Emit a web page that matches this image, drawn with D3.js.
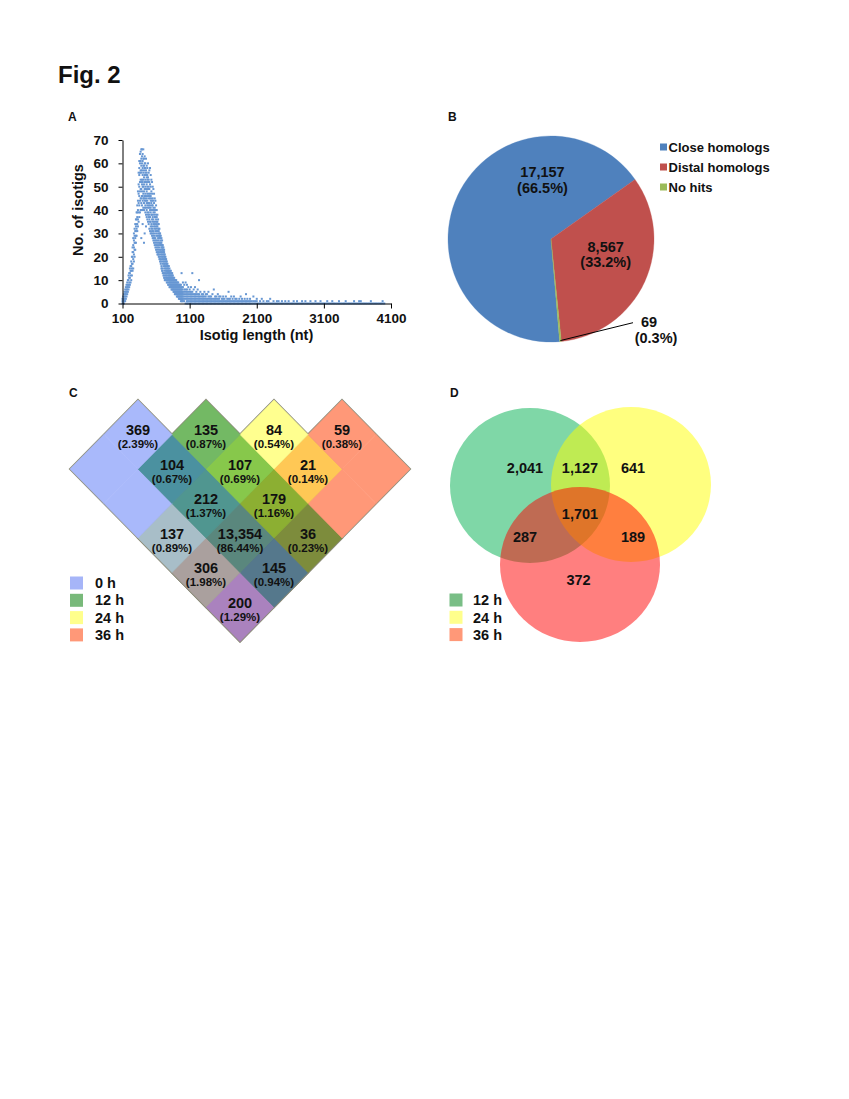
<!DOCTYPE html>
<html><head><meta charset="utf-8">
<script src="https://cdn.jsdelivr.net/npm/d3@7"></script>
<style>
body{margin:0;background:#fff}
svg{font-family:"Liberation Sans",Arial,sans-serif;font-weight:bold}
</style>
</head><body>
<svg id="fig" width="849" height="1099"></svg>
<script>
// ---------------- DATA ----------------
// Panel A: isotig length (nt) bins, each followed by the isotig counts read at that length
const isotigScatter = [
[100,0,1,2],[110,0,1,3,2],[120,0,2,4,1],[130,1,3,5,2],[140,1,4,6,3],[150,2,4,7,5],[160,3,5,8,6],[170,4,6,9,7],
[180,5,7,10,8],[190,6,8,12,10],[200,7,9,13,11],[210,8,11,15,13],[220,9,12,16,14],[230,10,14,18,16],[240,12,15,20,17],
[250,14,17,24,20,22],[260,15,19,28,22,25],[270,18,21,30,24,27],[280,20,23,32,26,29],[290,23,26,34,28,31],
[300,26,29,36,31,33],[310,29,32,39,34,36],[320,31,34,42,37,39],[330,33,36,48,40,44],[340,35,39,56,43,47,51],
[350,37,42,61,46,50,55,58],[360,39,44,64,48,52,56,60],[370,40,45,65,49,53,57,61],
[380,40,45,52,59,66,62,56,49,28,43],[390,42,48,53,60,66,63,57,51,46],[400,40,46,52,58,64,61,55,50,44,34],
[410,41,47,53,59,66,62,56,50,45],[420,40,45,51,57,62,59,54,48,43,26],[430,41,46,52,58,63,60,55,49,44,30],
[440,39,45,50,56,60,58,53,47,42],[450,38,44,49,55,62,57,52,46,41,33],[460,37,43,48,54,59,56,51,45,40],
[470,36,42,47,53,58,55,50,44,39],[480,35,41,46,52,60,54,49,43,38],[490,34,39,45,50,56,53,47,42,37],
[500,32,38,43,49,57,52,46,41,36],[510,31,37,42,47,58,51,45,40,35],[520,30,35,41,46,55,50,44,39,33],
[530,30,34,40,45,53,48,43,38,32],[540,29,33,38,44,52,47,42,36,31],[550,28,32,37,42,50,45,40,35,30],
[560,27,31,36,41,49,44,39,34,29],[570,26,30,35,40,47,43,38,33,28],[580,25,29,34,39,45,41,37,32,27],
[590,24,28,33,37,44,40,35,31,26],[600,23,27,32,36,42,38,34,30,25],[610,22,26,31,35,40,37,33,29,24],
[620,21,25,29,33,38,35,31,27,23],[630,21,24,28,32,36,34,30,26,22],[640,20,23,27,31,34,32,29,25,21],
[650,19,22,26,29,32,30,28,24,20],[660,18,21,25,28,30,29,26,23,19],[670,17,20,23,26,29,27,25,22,18],
[680,16,19,22,25,28,26,24,21,15],[690,15,18,21,24,27,25,23,20,14],[700,14,17,20,23,25,24,22,19,13],
[710,13,16,19,22,24,23,21,18,12],[720,12,15,18,21,23,22,20,17,11],[730,11,14,17,20,21,19,16,10,13],
[740,10,13,16,19,20,18,15,12],[750,10,12,15,18,19,17,14,11],[760,9,12,14,17,18,16,13,11],
[770,9,11,14,16,17,15,13,10],[780,8,11,13,15,16,14,12,10],[790,8,10,12,14,16,13,11,9],
[800,7,10,12,13,15,14,11,9],[810,7,9,11,13,14,12,10,8],[820,7,9,11,12,13,14,10,8],[830,6,8,10,12,13,11,9,7],
[840,6,8,10,11,12,9,7,13],[850,6,8,9,11,12,10,7],[860,5,7,9,10,11,8,6],[870,5,7,8,10,11,9,6],
[880,5,6,8,9,10,7,4],[890,5,6,8,9,10,7,4],[900,4,6,7,9,10,8,5],[910,4,5,7,8,9,6,3],[920,4,5,7,8,9,6,3],
[930,3,5,6,8,9,7,4],[940,3,5,6,7,8,4,2],[950,3,4,6,7,8,5,2],[960,3,4,5,7,8,6,2],[970,2,4,5,6,8,3,1],
[980,2,3,5,6,7,4,1,13],[990,2,3,5,6,7,4,1],
[1000,1,2,4,5,7,3,9],[1020,1,2,3,5,6,4,8],[1040,0,2,4,5,6,3,9],[1060,0,1,3,4,6,2,5,8],[1080,0,1,3,4,5,2,7],
[1100,0,1,2,4,5,3,6],[1120,0,1,2,3,5,4,7],[1140,0,1,2,3,4,5,13],[1160,0,1,2,3,4,6],[1180,0,1,2,3,4,7],
[1200,0,1,2,3,5,4],[1220,0,1,2,3,4,6],[1240,0,1,2,4,3,10],[1260,0,1,2,3,5],[1280,0,1,2,3,4],
[1300,0,1,2,4,3],[1320,0,1,2,3,5],[1340,0,1,3,2,4],[1360,0,1,2,4],[1380,0,1,2,3,5],[1400,0,1,2,3],
[1420,0,1,3,2],[1440,0,1,2,4],[1460,0,1,2,6],[1480,0,1,2,3],[1500,0,1,3,2],[1520,0,1,2,4],[1540,0,1,2,3],
[1560,0,1,3],[1580,0,1,2],[1600,0,1,2,3],[1620,0,1,2],[1640,0,1,3],[1660,0,1,2],[1680,0,1,2,5],[1700,0,1,2],
[1720,0,1,3],[1740,0,1,2],[1760,0,1,3],[1780,0,1,2],[1800,0,1,2],[1820,0,1],[1840,0,1,2],[1860,0,1,3],
[1880,0,1,2],[1900,0,1],[1920,0,1,2],[1940,0,1,4],[1960,0,1,2],[1980,0,1],
[2000,0,1,2],[2025,0,1],[2050,0,1,3],[2075,0,1],[2100,0,1,2],[2125,0],[2150,0,1],[2175,0,2],[2200,0,1],
[2225,0],[2250,0,1],[2275,0,1],[2300,0,2],[2325,0],[2350,0,1],[2375,0],[2400,0,1],[2425,0,1],[2450,0],
[2475,0,1],[2500,0],[2525,0,1],[2550,0],[2575,0,1],[2600,0],[2625,0],[2650,0,1],[2675,0],[2700,0,1],
[2725,0],[2750,0],[2775,0,1],[2800,0],[2825,0,1],[2850,0],[2875,0],[2900,0,1],[2925,0],[2950,0],
[2975,0,1],[3000,0],[3025,0],[3050,0,1],[3075,0],[3100,0],[3125,0],[3150,0,1],[3175,0],[3200,0],
[3225,0,1],[3250,0],[3275,0],[3300,0],[3325,0,1],[3350,0],[3375,0],[3400,0],[3425,0,1],[3450,0],
[3475,0],[3500,0],[3525,0],[3550,0,1],[3575,0],[3600,0],[3625,0,1],[3650,0,1],[3675,0],[3700,0],
[3725,0],[3750,0],[3775,0],[3800,0,1],[3825,0],[3850,0],[3875,0],[3900,0],[3925,0],[3950,0],
[3975,0,1],[4000,0]
];
const xTicksA = [100, 1100, 2100, 3100, 4100];
const yTicksA = [0, 10, 20, 30, 40, 50, 60, 70];

// Panel B: BLAST homology categories
const pieCategories = ["Close homologs", "Distal homologs", "No hits"];
const pieCounts = [17157, 8567, 69];
const piePercents = ["66.5%", "33.2%", "0.3%"];

// Panel C: four-set diagram (0, 12, 24, 36 h)
const cSetKeys = ["0", "12", "24", "36"];
const cSetNames = ["0 h", "12 h", "24 h", "36 h"];
const cRegionSets = ["0","12","24","36","0,12","12,24","24,36","0,12,24","12,24,36","0,24","0,12,24,36","12,36","0,24,36","0,12,36","0,36"];
const cRegionCounts = [369,135,84,59,104,107,21,212,179,137,13354,36,306,145,200];
const cRegionPercents = ["2.39%","0.87%","0.54%","0.38%","0.67%","0.69%","0.14%","1.37%","1.16%","0.89%","86.44%","0.23%","1.98%","0.94%","1.29%"];

// Panel D: three-set Venn (12, 24, 36 h)
const dSetKeys = ["12", "24", "36"];
const dSetNames = ["12 h", "24 h", "36 h"];
const dRegionSets = ["12", "12,24", "24", "12,24,36", "12,36", "24,36", "36"];
const dRegionCounts = [2041, 1127, 641, 1701, 287, 189, 372];

// ---------------- DRAW ----------------
const svg = d3.select("#fig");
const fmt = d3.format(",");
const TXT = "#111";

svg.append("text").attr("x", 58).attr("y", 83).attr("font-size", 24).attr("fill", TXT).text("Fig. 2");
[["A",68,121],["B",448,121],["C",69,397],["D",450,397]].forEach(p=>{
  svg.append("text").attr("x",p[1]).attr("y",p[2]).attr("font-size",12).attr("fill",TXT).text(p[0]);
});

// ----- Panel A -----
const xA = d3.scaleLinear().domain([100, 4100]).range([122.5, 391]);
const yA = d3.scaleLinear().domain([0, 70]).range([303.5, 140]);
const gA = svg.append("g");
const ptsA = [];
isotigScatter.forEach(r => r.slice(1).forEach(c => ptsA.push([r[0], c])));
gA.selectAll("rect.pt").data(ptsA).join("rect").attr("class","pt")
  .attr("x", d => xA(d[0]) - 1).attr("y", d => yA(d[1]) - 1)
  .attr("width", 2).attr("height", 2).attr("fill", "#6797d3");
const axX = gA.append("g").attr("transform","translate(0,303.5)")
  .call(d3.axisBottom(xA).tickValues(xTicksA).tickSize(5).tickSizeOuter(0).tickPadding(5).tickFormat(d=>d));
const axY = gA.append("g").attr("transform","translate(122.5,0)")
  .call(d3.axisLeft(yA).tickValues(yTicksA).tickSize(4).tickSizeOuter(0).tickPadding(10));
[axX, axY].forEach(ax=>{
  ax.attr("font-family",null).attr("font-size",null);
  ax.selectAll("text").attr("font-size",13.5).attr("fill",TXT).attr("font-weight","bold");
  ax.selectAll("line,path").attr("stroke","#000");
});
gA.append("text").attr("x",256.5).attr("y",339.5).attr("text-anchor","middle").attr("font-size",14.5).attr("fill",TXT).text("Isotig length (nt)");
gA.append("text").attr("transform","translate(83,210) rotate(-90)").attr("text-anchor","middle").attr("font-size",14.5).attr("fill",TXT).text("No. of isotigs");

// ----- Panel B -----
const pieColors = ["#4f81bd", "#c0504d", "#9bbb59"];
const pcx = 551, pcy = 239, pr = 103;
const startB = 175.2 * Math.PI / 180;
const pie = d3.pie().sort(null).startAngle(startB).endAngle(startB + 2*Math.PI);
const arcs = pie(pieCounts);
const arc = d3.arc().innerRadius(0).outerRadius(pr);
const gB = svg.append("g").attr("transform",`translate(${pcx},${pcy})`);
gB.selectAll("path").data(arcs).join("path").attr("d", arc).attr("fill",(d,i)=>pieColors[i])
  .attr("stroke",(d,i)=>pieColors[i]).attr("stroke-width",0.3);
// label anchors (layout)
const pieLabelPos = [[-8.5, -62], [54.7, 12.5], [98, 88]];
arcs.forEach((a,i)=>{
  const t = gB.append("text").attr("text-anchor","middle").attr("font-size",14.5).attr("fill",TXT);
  t.append("tspan").attr("x",pieLabelPos[i][0]).attr("y",pieLabelPos[i][1]).text(fmt(pieCounts[i]));
  t.append("tspan").attr("x",pieLabelPos[i][0] + (i===2?7:0)).attr("y",pieLabelPos[i][1]+15.5).text("(" + piePercents[i] + ")");
});
// leader line for the small slice
const smallMid = (arcs[2].startAngle + arcs[2].endAngle)/2;
gB.append("line").attr("x1", Math.sin(smallMid)*(pr-1)).attr("y1", -Math.cos(smallMid)*(pr-1))
  .attr("x2", 82).attr("y2", 83.7).attr("stroke","#000").attr("stroke-width",1);
const gBL = svg.append("g");
pieCategories.forEach((c,i)=>{
  gBL.append("rect").attr("x",660).attr("y",143.5+20*i).attr("width",7).attr("height",7).attr("fill",pieColors[i]);
  gBL.append("text").attr("x",668.5).attr("y",151.7+20*i).attr("font-size",13).attr("fill",TXT).text(c);
});

// ----- Panel C -----
const spansC = [ {a:[0,4], b:[0,1]}, {a:[0,3], b:[1,2]}, {a:[1,2], b:[0,3]}, {a:[0,1], b:[0,4]} ];
const cRegionFill = {
  "0":"#a9b9fb","12":"#73b964","24":"#ffff8f","36":"#ff9878",
  "0,12":"#4b91a0","12,24":"#87c84b","24,36":"#ffc855","0,24":"#a8bec8",
  "12,36":"#7d8c3c","0,36":"#aa82be","0,12,24":"#509690","12,24,36":"#8caf32",
  "0,24,36":"#aaa09e","0,12,36":"#55788c","0,12,24,36":"#5a877d"
};
const cLegendFill = ["#a6b5f8", "#78b97a", "#ffff8c", "#ff9878"];
const dx = d3.scaleLinear().domain([-5, 5]).range([70, 410]);     // (b - a)
const dy = d3.scaleLinear().domain([-1, 6]).range([641.5, 400]);  // (a + b)
const P = (a,b) => [dx(b - a), dy(a + b)];
const gC = svg.append("g");
// set outlines (outer half stays visible)
spansC.forEach(s=>{
  const a0=s.a[0]-0.5, a1=s.a[1]+0.5, b0=s.b[0]-0.5, b1=s.b[1]+0.5;
  gC.append("polygon").attr("points",[P(a1,b1),P(a0,b1),P(a0,b0),P(a1,b0)].map(p=>p.join(",")).join(" "))
    .attr("fill","none").attr("stroke","#8e8e7c").attr("stroke-width",2);
});
const cells = [];
for (let a=0;a<=4;a++) for (let b=0;b<=4;b++){
  const mem = cSetKeys.filter((k,i)=> a>=spansC[i].a[0] && a<=spansC[i].a[1] && b>=spansC[i].b[0] && b<=spansC[i].b[1]);
  if (mem.length) cells.push({a, b, key: mem.join(",")});
}
gC.selectAll("polygon.cell").data(cells).join("polygon").attr("class","cell")
  .attr("points", d => [P(d.a+.5,d.b+.5),P(d.a-.5,d.b+.5),P(d.a-.5,d.b-.5),P(d.a+.5,d.b-.5)].map(p=>p.join(",")).join(" "))
  .attr("fill", d => cRegionFill[d.key]).attr("stroke", d => cRegionFill[d.key]).attr("stroke-width",0.6);
cRegionSets.forEach((key,i)=>{
  const cs = cells.filter(c=>c.key===key).sort((p,q)=>(q.a+q.b)-(p.a+p.b));
  const c = cs[0]; const [x,y] = P(c.a,c.b);
  gC.append("text").attr("x",x).attr("y",y+0.5).attr("text-anchor","middle").attr("font-size",14.5).attr("fill",TXT).text(fmt(cRegionCounts[i]));
  gC.append("text").attr("x",x).attr("y",y+13.5).attr("text-anchor","middle").attr("font-size",11.5).attr("fill",TXT).text("(" + cRegionPercents[i] + ")");
});
cSetNames.forEach((n,i)=>{
  gC.append("rect").attr("x",70).attr("y",576.5+17.3*i).attr("width",13).attr("height",13).attr("fill",cLegendFill[i]);
  gC.append("text").attr("x",95).attr("y",588+17.3*i).attr("font-size",14.5).attr("fill",TXT).text(n);
});

// ----- Panel D -----
const dCircles = [ {cx:530, cy:485.5, fill:"#00b050"}, {cx:631, cy:484.5, fill:"#ffff00"}, {cx:580, cy:564.5, fill:"#ff0000"} ];
const gD = svg.append("g");
gD.selectAll("ellipse").data(dCircles).join("ellipse")
  .attr("cx",d=>d.cx).attr("cy",d=>d.cy).attr("rx",80).attr("ry",77.5)
  .attr("fill",d=>d.fill).attr("fill-opacity",0.5);
const dLabelPos = {"12":[525,473],"12,24":[580,473],"24":[633,473],"12,24,36":[580,519],"12,36":[525,542],"24,36":[633,542],"36":[578.5,585]};
dRegionSets.forEach((key,i)=>{
  gD.append("text").attr("x",dLabelPos[key][0]).attr("y",dLabelPos[key][1]).attr("text-anchor","middle")
    .attr("font-size",14.5).attr("fill",TXT).text(fmt(dRegionCounts[i]));
});
const dLegendFill = ["#79be86", "#ffff8c", "#ff9878"];
dSetNames.forEach((n,i)=>{
  gD.append("rect").attr("x",449.5).attr("y",593.5+17.3*i).attr("width",13).attr("height",13).attr("fill",dLegendFill[i]);
  gD.append("text").attr("x",473).attr("y",605.3+17.3*i).attr("font-size",14.5).attr("fill",TXT).text(n);
});
</script>
</body></html>
